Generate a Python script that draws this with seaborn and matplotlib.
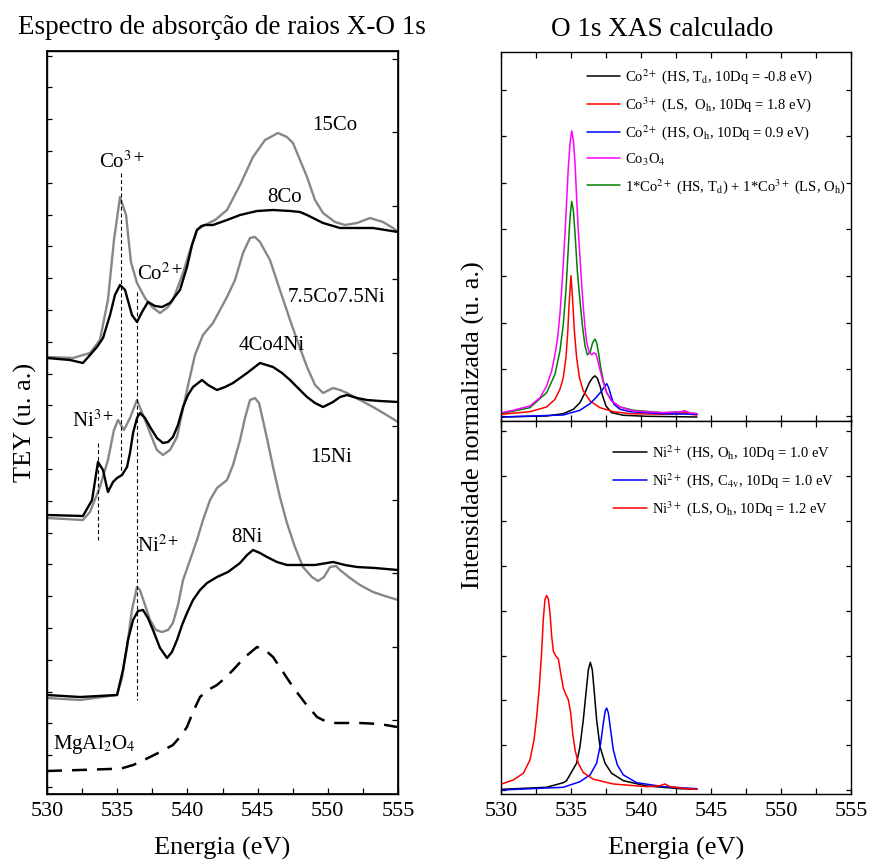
import numpy as np
import matplotlib
matplotlib.use("Agg")
import matplotlib.pyplot as plt
import seaborn as sns

sns.set_theme(style="ticks")
plt.rcParams["font.family"] = ["Liberation Serif", "DejaVu Serif"]
plt.rcParams["mathtext.fontset"] = "stix"
for key in ("text.color", "axes.labelcolor", "xtick.color", "ytick.color", "axes.edgecolor"):
    plt.rcParams[key] = "black"

# ---------------- measured O K-edge spectra (TEY, arbitrary units, stacked) ----------------
e_15co = [530.0, 531.85, 533.06, 533.77, 534.34, 534.77, 535.20, 535.63, 535.98, 536.41, 536.98,
          537.48, 538.05, 538.62, 538.97, 539.69, 540.19, 540.68, 541.25, 541.97, 542.82, 543.75,
          544.67, 545.53, 546.45, 547.09, 547.52, 548.02, 548.52, 549.09, 549.66, 550.51, 551.22,
          552.08, 553.01, 553.93, 554.64, 555.0]
i_15co = [43.7, 43.6, 44.1, 45.4, 49.4, 55.4, 59.7, 57.9, 53.2, 51.1, 49.6,
          48.7, 48.1, 48.7, 49.4, 52.1, 54.4, 56.4, 56.9, 57.4, 58.4, 60.9,
          63.7, 65.4, 66.1, 65.7, 65.1, 63.4, 61.7, 59.4, 58.1, 57.2, 56.9,
          57.1, 57.6, 57.2, 56.6, 56.2]

e_8co = [530.0, 531.64, 532.56, 533.06, 533.56, 533.99, 534.49, 534.84, 535.20, 535.56, 536.05,
         536.41, 536.77, 537.19, 537.69, 538.19, 538.76, 539.47, 539.97, 540.33, 540.68, 541.0,
         541.25, 541.82, 542.82, 543.75, 544.96, 546.10, 547.31, 548.02, 548.52, 549.66, 550.87,
         552.08, 553.22, 555.0]
i_8co = [43.6, 43.4, 43.1, 43.9, 44.7, 45.6, 47.9, 49.9, 50.9, 50.4, 47.9,
         47.2, 48.2, 49.2, 48.8, 48.7, 49.1, 50.4, 52.7, 54.9, 56.4, 56.8,
         56.9, 56.9, 57.4, 57.9, 58.3, 58.4, 58.3, 58.2, 57.9, 57.1, 56.6,
         56.6, 56.6, 56.2]

e_75co75ni = [530.0, 532.56, 533.06, 533.77, 534.34, 534.77, 535.06, 535.48, 535.91, 536.41, 536.84,
              537.34, 537.83, 538.26, 538.76, 539.26, 539.97, 540.54, 541.11, 541.82, 542.82, 543.39,
              543.96, 544.46, 544.81, 545.17, 545.88, 546.59, 547.31, 547.81, 548.52, 549.09, 549.66,
              550.37, 550.87, 551.37, 552.29, 553.22, 554.07, 555.0]
i_75co75ni = [27.6, 27.4, 28.2, 30.7, 33.4, 36.4, 37.4, 36.4, 37.6, 39.4, 37.9,
              36.1, 34.4, 33.9, 34.4, 35.7, 40.4, 43.9, 45.9, 47.1, 49.7, 51.4,
              54.1, 55.6, 55.7, 55.2, 53.4, 50.4, 47.4, 45.4, 42.7, 40.9, 40.1,
              40.6, 40.4, 40.1, 39.4, 38.7, 38.0, 37.2]

e_4co4ni = [530.0, 532.56, 533.21, 533.63, 533.99, 534.34, 534.70, 534.99, 535.34, 535.70, 535.91,
            536.13, 536.41, 536.62, 536.98, 537.34, 537.83, 538.26, 538.62, 538.97, 539.33, 539.69,
            540.04, 540.40, 541.04, 541.47, 542.11, 542.68, 543.25, 544.25, 545.17, 546.10, 546.74,
            547.31, 548.02, 548.52, 549.09, 549.66, 550.37, 550.87, 551.37, 552.08, 552.79, 553.72,
            555.0]
i_4co4ni = [27.9, 27.8, 29.4, 33.2, 32.4, 30.2, 31.2, 31.6, 31.9, 32.7, 34.1,
            36.1, 37.6, 38.1, 37.6, 36.7, 35.6, 35.1, 35.2, 35.7, 36.9, 38.7,
            39.9, 40.7, 41.4, 40.9, 40.4, 40.7, 41.1, 42.1, 43.1, 42.7, 42.1,
            41.4, 40.4, 39.7, 39.1, 38.7, 39.2, 39.7, 39.9, 39.6, 39.4, 39.3,
            39.2]

e_15ni = [530.0, 532.35, 534.99, 535.34, 535.70, 536.05, 536.41, 536.62, 536.98, 537.34, 537.76,
          538.19, 538.62, 538.97, 539.33, 539.69, 540.19, 540.68, 541.11, 541.61, 542.11, 542.82,
          543.25, 543.75, 544.10, 544.46, 544.81, 545.10, 545.38, 545.74, 546.10, 546.59, 547.09,
          547.66, 548.23, 548.87, 549.30, 549.73, 550.16, 550.58, 550.87, 551.58, 552.29, 553.22,
          554.07, 555.0]
i_15ni = [9.6, 9.4, 9.9, 11.6, 14.7, 18.4, 20.7, 20.4, 18.9, 17.4, 16.4,
          16.2, 16.4, 17.1, 18.9, 21.4, 23.4, 25.4, 27.4, 29.4, 30.6, 31.4,
          32.9, 35.4, 37.6, 39.4, 39.6, 39.1, 37.4, 35.1, 32.7, 29.7, 27.1,
          24.7, 22.7, 21.7, 21.3, 21.7, 22.7, 22.8, 22.4, 21.6, 20.9, 20.2,
          19.8, 19.4]

e_8ni = [530.0, 532.35, 534.99, 535.41, 535.77, 536.13, 536.48, 536.84, 537.19, 537.55, 538.05,
         538.55, 538.90, 539.26, 539.62, 539.97, 540.40, 540.90, 541.40, 542.11, 542.89, 543.75,
         544.25, 544.67, 545.17, 545.67, 546.38, 547.09, 548.02, 549.09, 550.37, 551.22, 552.08,
         553.36, 555.0]
i_8ni = [9.9, 9.7, 9.9, 12.4, 15.4, 17.4, 18.3, 18.4, 17.6, 16.4, 14.6,
         13.6, 14.2, 15.4, 16.9, 18.1, 19.4, 20.4, 21.1, 21.7, 22.2, 23.1,
         23.9, 24.4, 24.1, 23.7, 23.2, 22.9, 22.9, 22.9, 23.2, 22.9, 22.7,
         22.6, 22.4]

e_mgal2o4 = [530.0, 532.35, 534.49, 535.41, 536.13, 536.62, 537.34, 538.05, 538.97, 539.47, 539.97,
             540.40, 540.90, 541.47, 542.11, 542.68, 543.25, 544.10, 544.96, 545.53, 546.10, 546.81,
             547.52, 548.38, 549.23, 549.80, 550.37, 551.22, 552.29, 553.72, 554.93]
i_mgal2o4 = [2.3, 2.4, 2.5, 2.6, 2.9, 3.2, 3.7, 4.2, 4.9, 5.7, 6.7,
             8.2, 9.7, 10.4, 10.9, 11.6, 12.4, 13.7, 14.7, 14.4, 13.7, 12.2,
             10.7, 9.1, 7.7, 7.3, 7.1, 7.1, 7.1, 7.0, 6.7]

# reference energies of the marked pre-edge features
e_co3 = 535.27
e_co2_ni2 = 536.41
e_ni3 = 533.65

# ---------------- calculated Co spectra ----------------
e_co3o4 = [530.0, 530.88, 532.07, 532.79, 533.26, 533.62, 533.86, 534.05, 534.21, 534.33, 534.45,
           534.57, 534.69, 534.81, 534.93, 535.05, 535.17, 535.29, 535.40, 535.52, 535.64, 535.76,
           535.88, 536.0, 536.12, 536.31, 536.48, 536.64, 536.79, 536.95, 537.12, 537.31, 537.55,
           537.90, 538.5, 539.45, 541.6, 542.79, 543.14, 543.5, 544.0]
i_co3o4 = [0.83, 1.07, 1.5, 2.33, 3.5, 5.0, 6.67, 8.33, 10.67, 13.0, 15.67,
           18.67, 22.0, 25.33, 27.67, 28.93, 28.0, 25.67, 22.33, 19.0, 16.33, 13.67,
           11.33, 9.33, 7.83, 6.83, 6.6, 6.8, 6.67, 5.83, 4.83, 3.83, 2.83,
           2.0, 1.4, 1.0, 0.83, 0.93, 1.0, 0.8, 0.73]

e_sum = [530.0, 532.07, 533.26, 533.86, 534.21, 534.45, 534.64, 534.81, 534.93, 535.05, 535.17,
         535.29, 535.45, 535.64, 535.83, 536.0, 536.17, 536.36, 536.55, 536.71, 536.83, 536.98,
         537.12, 537.31, 537.55, 537.90, 538.5, 539.45, 541.6, 542.79, 543.14, 543.5, 544.0]
i_sum = [0.73, 1.33, 2.83, 4.67, 7.0, 9.67, 13.0, 17.33, 20.33, 21.9, 21.0,
         18.67, 15.0, 12.0, 9.33, 7.5, 6.6, 6.83, 7.83, 8.17, 7.83, 6.67,
         5.33, 4.0, 2.83, 2.0, 1.4, 1.07, 0.83, 0.9, 0.97, 0.8, 0.73]

e_co3_ls = [530.0, 532.07, 533.26, 533.86, 534.21, 534.45, 534.64, 534.76, 534.88, 535.0, 535.12,
            535.24, 535.40, 535.60, 535.88, 536.36, 537.07, 538.02, 539.21, 541.6, 542.79, 543.14,
            543.5, 544.0]
i_co3_ls = [0.67, 0.93, 1.4, 2.17, 3.17, 4.33, 6.33, 8.67, 12.0, 14.5, 12.0,
            9.0, 6.33, 4.33, 3.0, 2.0, 1.33, 0.93, 0.73, 0.67, 0.73, 0.83,
            0.67, 0.6]

e_co2_td = [530.0, 533.26, 534.45, 535.17, 535.64, 536.0, 536.31, 536.55, 536.71, 536.88, 537.07,
            537.26, 537.5, 537.9, 538.74, 540.4, 544.0]
i_co2_td = [0.4, 0.5, 0.73, 1.17, 1.83, 2.83, 3.83, 4.33, 4.5, 4.27, 3.5,
            2.5, 1.5, 0.83, 0.57, 0.47, 0.4]

e_co2_oh = [530.0, 534.45, 535.64, 536.36, 536.83, 537.19, 537.43, 537.55, 537.69, 537.86, 538.07,
            538.5, 539.21, 541.6, 544.0]
i_co2_oh = [0.4, 0.6, 1.07, 1.73, 2.4, 3.0, 3.5, 3.73, 3.33, 2.5, 1.67,
            1.17, 0.93, 0.73, 0.67]

# ---------------- calculated Ni spectra ----------------
e_ni3_ls = [530.05, 530.88, 531.6, 532.07, 532.36, 532.55, 532.74, 532.9, 533.02, 533.14, 533.26,
            533.38, 533.5, 533.62, 533.74, 533.93, 534.1, 534.26, 534.45, 534.64, 534.81, 534.98,
            535.12, 535.29, 535.52, 535.88, 536.6, 538.02, 540.4, 541.36, 541.71, 542.07, 543.26,
            544.0]
i_ni3_ls = [1.0, 1.4, 2.07, 3.4, 5.4, 7.73, 10.73, 14.07, 17.4, 19.4, 19.8,
            19.47, 18.07, 15.73, 14.23, 13.73, 13.47, 12.07, 10.57, 9.9, 9.4, 8.07,
            6.07, 4.4, 3.07, 2.13, 1.47, 1.0, 0.73, 0.83, 1.0, 0.73, 0.53,
            0.47]

e_ni2_oh = [530.05, 533.26, 534.45, 534.67, 535.4, 535.64, 535.88, 536.07, 536.24, 536.38, 536.52,
            536.67, 536.83, 537.07, 537.43, 537.9, 538.74, 540.4, 542.79, 544.0]
i_ni2_oh = [0.47, 0.67, 1.13, 1.3, 3.07, 4.73, 7.4, 10.07, 12.4, 13.13, 12.4,
            10.07, 7.4, 4.73, 3.07, 2.07, 1.33, 0.8, 0.53, 0.47]

e_ni2_c4v = [530.05, 534.45, 535.64, 536.36, 536.83, 537.12, 537.31, 537.45, 537.55, 537.67, 537.83,
             538.02, 538.31, 538.74, 539.69, 541.6, 544.0]
i_ni2_c4v = [0.4, 0.67, 1.23, 1.9, 3.07, 5.07, 7.07, 8.33, 8.57, 8.07, 6.4,
             4.4, 2.9, 1.9, 1.13, 0.73, 0.53]

xticks_major = [530, 535, 540, 545, 550, 555]
xticks_minor = [532.5, 537.5, 542.5, 547.5, 552.5]

GRAY = "#878787"

fig = plt.figure(figsize=(8.69, 8.64), dpi=100)
ax_l = fig.add_axes([47 / 869, 70 / 864, 351 / 869, 743 / 864])
ax_t = fig.add_axes([501 / 869, 443 / 864, 350 / 869, 369 / 864])
ax_b = fig.add_axes([501 / 869, 70 / 864, 350 / 869, 373 / 864])


def curve(ax, x, y, color, lw, label=None):
    sns.lineplot(x=x, y=y, ax=ax, color=color, linewidth=lw, sort=False,
                 estimator=None, label=label)
    line = ax.lines[-1]
    line.set_solid_joinstyle("round")
    return line


# ---- left panel: experimental spectra ----
curve(ax_l, e_15co, i_15co, GRAY, 1.7)
curve(ax_l, e_8co, i_8co, "black", 1.7)
curve(ax_l, e_75co75ni, i_75co75ni, GRAY, 1.7)
curve(ax_l, e_4co4ni, i_4co4ni, "black", 1.7)
curve(ax_l, e_15ni, i_15ni, GRAY, 1.7)
curve(ax_l, e_8ni, i_8ni, "black", 1.7)
curve(ax_l, e_mgal2o4, i_mgal2o4, "black", 1.8).set_dashes((6, 4))

vkw = dict(color="black", lw=0.8, dashes=(3.5, 2.5))
ax_l.plot([e_co3, e_co3], [62.1, 32.1], **vkw)
ax_l.plot([e_co2_ni2, e_co2_ni2], [50.2, 9.4], **vkw)
ax_l.plot([e_ni3, e_ni3], [35.1, 25.4], **vkw)

tkw = dict(fontsize=15, ha="center", va="center")
ax_l.text(550.5, 66.8, "15Co", **tkw)
ax_l.text(546.9, 59.7, "8Co", **tkw)
ax_l.text(535.35, 63.2, r"Co$^{3+}$", **tkw)
ax_l.text(538.05, 52.0, r"Co$^{2+}$", **tkw)
ax_l.text(550.65, 49.6, "7.5Co7.5Ni", **tkw)
ax_l.text(546.0, 44.9, "4Co4Ni", **tkw)
ax_l.text(550.2, 33.6, "15Ni", **tkw)
ax_l.text(544.25, 25.6, "8Ni", **tkw)
ax_l.text(533.3, 37.3, r"Ni$^{3+}$", **tkw)
ax_l.text(537.9, 24.8, r"Ni$^{2+}$", **tkw)
ax_l.text(530.4, 5.0, r"MgAl$_2$O$_4$", fontsize=15, ha="left", va="center")

ax_l.set_xlim(530, 555)
ax_l.set_ylim(0, 74.3)
ax_l.set_yticks(np.arange(0.7, 74, 3.18))
ax_l.set_yticklabels([])
ax_l.tick_params(axis="y", direction="in", length=3.5, width=0.9, left=True, right=False)
ax_l_r = ax_l.twinx()
ax_l_r.set_ylim(0, 74.3)
ax_l_r.set_yticks(np.arange(7.4, 74, 7.35))
ax_l_r.set_yticklabels([])
ax_l_r.tick_params(axis="y", direction="in", length=4, width=0.9)

# ---- right panels: calculated spectra ----
curve(ax_t, e_co2_td, i_co2_td, "black", 1.1,
      r"Co$^{2+}$ (HS, T$_\mathrm{d}$, 10Dq = -0.8 eV)")
curve(ax_t, e_co3_ls, i_co3_ls, "#ff0000", 1.1,
      r"Co$^{3+}$ (LS,  O$_\mathrm{h}$, 10Dq = 1.8 eV)")
curve(ax_t, e_co2_oh, i_co2_oh, "#0000ff", 1.1,
      r"Co$^{2+}$ (HS, O$_\mathrm{h}$, 10Dq = 0.9 eV)")
curve(ax_t, e_co3o4, i_co3o4, "#ff00ff", 1.1, r"Co$_3$O$_4$")
curve(ax_t, e_sum, i_sum, "#008000", 1.1,
      r"1*Co$^{2+}$ (HS, T$_\mathrm{d}$) + 1*Co$^{3+}$ (LS, O$_\mathrm{h}$)").set_zorder(1.9)

curve(ax_b, e_ni2_oh, i_ni2_oh, "black", 1.1,
      r"Ni$^{2+}$ (HS, O$_\mathrm{h}$, 10Dq = 1.0 eV")
curve(ax_b, e_ni2_c4v, i_ni2_c4v, "#0000ff", 1.1,
      r"Ni$^{2+}$ (HS, C$_\mathrm{4v}$, 10Dq = 1.0 eV")
curve(ax_b, e_ni3_ls, i_ni3_ls, "#ff0000", 1.1,
      r"Ni$^{3+}$ (LS, O$_\mathrm{h}$, 10Dq = 1.2 eV")

lkw = dict(loc="upper left", frameon=False, fontsize=10.5, handlelength=2.3,
           handletextpad=0.35, labelspacing=0.62, borderpad=0, borderaxespad=0)
ax_t.legend(bbox_to_anchor=(0.245, 0.958), **lkw)
ax_b.legend(bbox_to_anchor=(0.32, 0.94), **lkw)

ax_t.set_ylim(0, 36.8)
ax_t.set_yticks(np.arange(0.5, 36.5, 4.65))
ax_b.set_ylim(0, 37.2)
ax_b.set_yticks(np.arange(0.4, 37, 4.47))

for ax in (ax_l, ax_t, ax_b):
    ax.set_xlim(530, 555)
    ax.set_xticks(xticks_major)
    ax.set_xticks(xticks_minor, minor=True)
    ax.set_xlabel("")
    ax.set_ylabel("")
    for s in ax.spines.values():
        s.set_linewidth(1.0)
        s.set_color("black")

ax_l.tick_params(axis="x", which="both", direction="in", top=False, bottom=True,
                 length=4.5, width=0.9, labelsize=16, pad=6)
for ax in (ax_t, ax_b):
    ax.set_yticklabels([])
    ax.tick_params(axis="y", direction="in", left=True, right=True, length=3.5, width=0.9)
    ax.tick_params(axis="x", which="both", direction="in", top=True, bottom=True,
                   length=4.5, width=0.9, labelsize=16, pad=6)
ax_t.set_xticklabels([])

fig.text(222 / 869, 1 - 28 / 864, "Espectro de absorção de raios X-O 1s",
         fontsize=19.5, ha="center", va="center")
fig.text(662 / 869, 1 - 30 / 864, "O 1s XAS calculado",
         fontsize=19.5, ha="center", va="center")
fig.text(222 / 869, 1 - 848 / 864, "Energia (eV)", fontsize=19, ha="center", va="center")
fig.text(676 / 869, 1 - 848 / 864, "Energia (eV)", fontsize=19, ha="center", va="center")
fig.text(25 / 869, 1 - 422 / 864, "TEY (u. a.)", fontsize=19, rotation=90,
         ha="center", va="center")
fig.text(473 / 869, 1 - 425 / 864, "Intensidade normalizada (u. a.)", fontsize=19,
         rotation=90, ha="center", va="center")

fig.savefig("out.png", dpi=100)
